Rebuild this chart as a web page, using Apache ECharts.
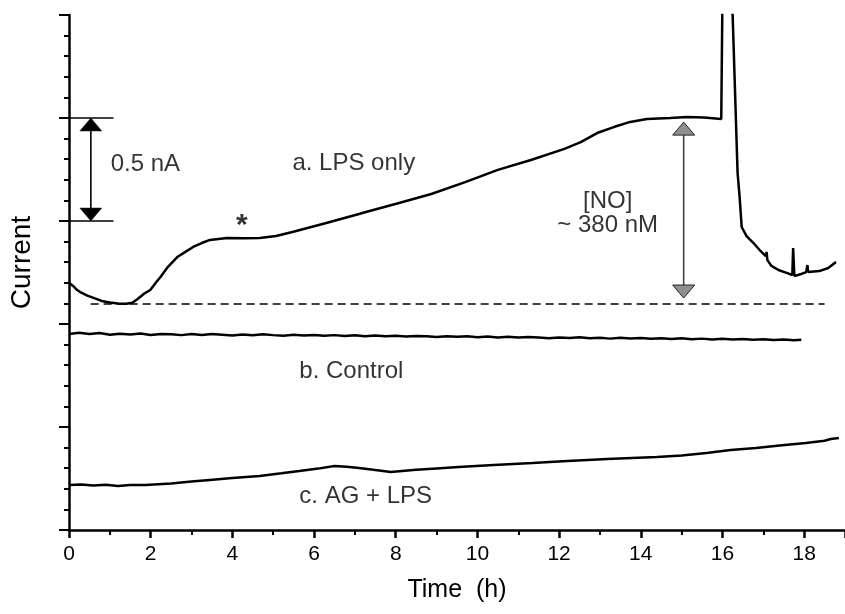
<!DOCTYPE html>
<html>
<head>
<meta charset="utf-8">
<script src="https://cdn.jsdelivr.net/npm/echarts@6/dist/echarts.min.js"></script>
<style>
  html, body { margin: 0; padding: 0; background: #fff; }
  #chart { width: 845px; height: 614px; }
</style>
</head>
<body>
<div id="chart"></div>
<script>
// trace a: LPS only (time in h, current in nA)
var lpsTime = [0, 0.1, 0.2, 0.3, 0.45, 0.6, 0.8, 1.0, 1.2, 1.4, 1.55, 1.68, 1.83, 1.99, 2.12, 2.24, 2.4, 2.65, 2.85, 3.04, 3.25, 3.45, 3.87, 4.3, 4.67, 5.07, 5.47, 6.3, 7.1, 7.27, 8.08, 8.87, 9.7, 10.5, 11.31, 12.13, 12.53, 12.93, 13.34, 13.74, 14.15, 14.72, 15.13, 15.55, 15.97, 16.02, 16.17, 16.37, 16.42, 16.47, 16.59, 16.76, 16.91, 17.06, 17.08, 17.1, 17.2, 17.37, 17.57, 17.71, 17.73, 17.76, 17.93, 18.05, 18.08, 18.1, 18.37, 18.59, 18.78];
var lpsCurrent = [1.200, 1.185, 1.165, 1.152, 1.138, 1.127, 1.112, 1.104, 1.099, 1.098, 1.103, 1.121, 1.146, 1.165, 1.199, 1.228, 1.272, 1.325, 1.350, 1.374, 1.393, 1.408, 1.417, 1.416, 1.417, 1.427, 1.447, 1.490, 1.534, 1.544, 1.587, 1.631, 1.689, 1.748, 1.796, 1.850, 1.883, 1.927, 1.956, 1.981, 1.995, 2.000, 2.005, 2.002, 1.995, 3.000, 3.000, 1.733, 1.617, 1.471, 1.427, 1.393, 1.359, 1.330, 1.350, 1.310, 1.282, 1.262, 1.248, 1.238, 1.369, 1.233, 1.243, 1.252, 1.286, 1.252, 1.257, 1.272, 1.301];

// trace b: control
var ctrlTime = [0, 0.25, 0.5, 0.75, 1, 1.25, 1.5, 1.75, 2, 2.25, 2.5, 2.75, 3, 3.25, 3.5, 3.75, 4, 4.25, 4.5, 4.75, 5, 5.25, 5.5, 5.75, 6, 6.25, 6.5, 6.75, 7, 7.25, 7.5, 7.75, 8, 8.25, 8.5, 8.75, 9, 9.25, 9.5, 9.75, 10, 10.25, 10.5, 10.75, 11, 11.25, 11.5, 11.75, 12, 12.25, 12.5, 12.75, 13, 13.25, 13.5, 13.75, 14, 14.25, 14.5, 14.75, 15, 15.25, 15.5, 15.75, 16, 16.25, 16.5, 16.75, 17, 17.25, 17.5, 17.75, 17.93];
var ctrlCurrent = [0.952, 0.957, 0.951, 0.956, 0.948, 0.953, 0.949, 0.954, 0.947, 0.952, 0.950, 0.946, 0.951, 0.947, 0.952, 0.948, 0.944, 0.949, 0.945, 0.950, 0.946, 0.943, 0.948, 0.944, 0.947, 0.943, 0.946, 0.942, 0.945, 0.941, 0.944, 0.940, 0.943, 0.939, 0.942, 0.940, 0.937, 0.941, 0.938, 0.940, 0.936, 0.939, 0.935, 0.938, 0.934, 0.937, 0.935, 0.931, 0.935, 0.932, 0.936, 0.931, 0.933, 0.929, 0.933, 0.930, 0.932, 0.928, 0.931, 0.927, 0.931, 0.926, 0.929, 0.925, 0.928, 0.925, 0.927, 0.923, 0.926, 0.922, 0.925, 0.921, 0.923];

// trace c: AG + LPS
var agTime = [0, 0.3, 0.6, 0.9, 1.2, 1.5, 1.87, 2.5, 3.0, 3.45, 4.0, 4.67, 5.2, 5.64, 6.1, 6.5, 6.8, 7.1, 7.5, 7.88, 8.5, 9.0, 9.53, 10.4, 11.35, 12.2, 13.18, 14.39, 15.0, 15.61, 16.2, 16.82, 17.4, 18.04, 18.5, 18.65, 18.85];
var agCurrent = [0.218, 0.221, 0.216, 0.220, 0.214, 0.219, 0.218, 0.226, 0.235, 0.243, 0.252, 0.262, 0.275, 0.286, 0.298, 0.311, 0.307, 0.301, 0.291, 0.282, 0.292, 0.299, 0.306, 0.315, 0.325, 0.335, 0.345, 0.354, 0.362, 0.374, 0.388, 0.398, 0.410, 0.422, 0.433, 0.442, 0.447];

// baseline and arrows, in data units
var baseline = { from: 0.53, to: 18.5, level: 1.097 };
var scaleBar = { x: 0.535, lineEnd: 1.09, low: 1.5, high: 2.0 };
var noArrow = { x: 15.05, low: 1.126, high: 1.98 };

var annotations = [
  { name: '0.5 nA', value: [1.02, 1.777], align: 'left' },
  { name: 'a. LPS only', value: [5.47, 1.782], align: 'left' },
  { name: '*', value: [4.23, 1.478], align: 'center' },
  { name: '[NO]\n~ 380 nM', value: [13.19, 1.539], align: 'center' },
  { name: 'b. Control', value: [5.64, 0.772], align: 'left' },
  { name: 'c. AG + LPS', value: [5.64, 0.165], align: 'left' }
];

function zip(xs, ys) {
  var out = [];
  for (var i = 0; i < xs.length; i++) out.push([xs[i], ys[i]]);
  return out;
}

var font = "'Liberation Sans', Arial, Helvetica, sans-serif";
var chart = echarts.init(document.getElementById('chart'), null, { renderer: 'canvas' });

function renderArrow(params, api) {
  var lo = api.coord([api.value(0), api.value(1)]);
  var hi = api.coord([api.value(0), api.value(2)]);
  var grey = api.value(3) === 1;
  var w = 11, h = 13;
  var fill = grey ? '#8f8f8f' : '#000';
  return {
    type: 'group',
    children: [
      { type: 'line', shape: { x1: lo[0], y1: lo[1] - h, x2: hi[0], y2: hi[1] + h },
        style: { stroke: grey ? '#444' : '#000', lineWidth: 1.6 } },
      { type: 'polygon', shape: { points: [[hi[0], hi[1]], [hi[0] - w, hi[1] + h], [hi[0] + w, hi[1] + h]] },
        style: { fill: fill, stroke: '#222', lineWidth: grey ? 1 : 0.5 } },
      { type: 'polygon', shape: { points: [[lo[0], lo[1]], [lo[0] - w, lo[1] - h], [lo[0] + w, lo[1] - h]] },
        style: { fill: fill, stroke: '#222', lineWidth: grey ? 1 : 0.5 } }
    ]
  };
}

var traceStyle = { color: '#000', width: 2.5 };

option = {
  animation: false,
  backgroundColor: '#fff',
  textStyle: { fontFamily: font },
  grid: { left: 68, top: 15, width: 781.5, height: 515 },
  xAxis: {
    type: 'value',
    min: 0,
    max: 19,
    interval: 2,
    name: 'Time  (h)',
    nameLocation: 'middle',
    nameGap: 48,
    nameTextStyle: { fontSize: 25, color: '#000', fontFamily: font },
    axisLine: { lineStyle: { color: '#000', width: 2.5 } },
    axisTick: { show: true, length: 8, lineStyle: { color: '#000', width: 2.5 } },
    minorTick: { show: true, splitNumber: 2, length: 5, lineStyle: { color: '#000', width: 2 } },
    axisLabel: { fontSize: 21, color: '#000', margin: 14, showMaxLabel: false },
    splitLine: { show: false }
  },
  yAxis: {
    type: 'value',
    min: 0,
    max: 2.5,
    interval: 0.5,
    name: 'Current',
    nameLocation: 'middle',
    nameGap: 33,
    nameTextStyle: { fontSize: 28, color: '#000', fontFamily: font, padding: [0, 0, 0, 20] },
    axisLine: { lineStyle: { color: '#000', width: 2.5 } },
    axisTick: { show: true, length: 10, lineStyle: { color: '#000', width: 2 } },
    minorTick: { show: true, splitNumber: 5, length: 5, lineStyle: { color: '#000', width: 2 } },
    axisLabel: { show: false },
    splitLine: { show: false }
  },
  series: [
    {
      name: 'a. LPS only',
      type: 'line',
      showSymbol: false,
      clip: true,
      data: zip(lpsTime, lpsCurrent),
      lineStyle: traceStyle
    },
    {
      name: 'b. Control',
      type: 'line',
      showSymbol: false,
      data: zip(ctrlTime, ctrlCurrent),
      lineStyle: traceStyle
    },
    {
      name: 'c. AG + LPS',
      type: 'line',
      showSymbol: false,
      data: zip(agTime, agCurrent),
      lineStyle: traceStyle
    },
    {
      // dashed baseline and the scale bar ends
      type: 'line',
      data: [],
      markLine: {
        silent: true,
        symbol: 'none',
        label: { show: false },
        data: [
          [{ coord: [baseline.from, baseline.level], lineStyle: { type: [8, 5], color: '#000', width: 1.5 } },
           { coord: [baseline.to, baseline.level] }],
          [{ coord: [0, scaleBar.high], lineStyle: { type: 'solid', color: '#000', width: 1.5 } },
           { coord: [scaleBar.lineEnd, scaleBar.high] }],
          [{ coord: [0, scaleBar.low], lineStyle: { type: 'solid', color: '#000', width: 1.5 } },
           { coord: [scaleBar.lineEnd, scaleBar.low] }]
        ]
      }
    },
    {
      type: 'custom',
      renderItem: renderArrow,
      data: [
        [scaleBar.x, scaleBar.low, scaleBar.high, 0],
        [noArrow.x, noArrow.low, noArrow.high, 1]
      ],
      silent: true
    },
    {
      type: 'scatter',
      symbolSize: 0,
      silent: true,
      data: annotations.map(function (a) {
        return {
          name: a.name,
          value: a.value,
          label: a.name === '*'
            ? { align: a.align, fontSize: 30, fontWeight: 'bold' }
            : { align: a.align, fontSize: 24 }
        };
      }),
      label: {
        show: true,
        position: 'inside',
        formatter: '{b}',
        color: '#000',
        fontFamily: font,
        verticalAlign: 'middle',
        lineHeight: 24
      }
    }
  ]
};

chart.setOption(option);
</script>
</body>
</html>
